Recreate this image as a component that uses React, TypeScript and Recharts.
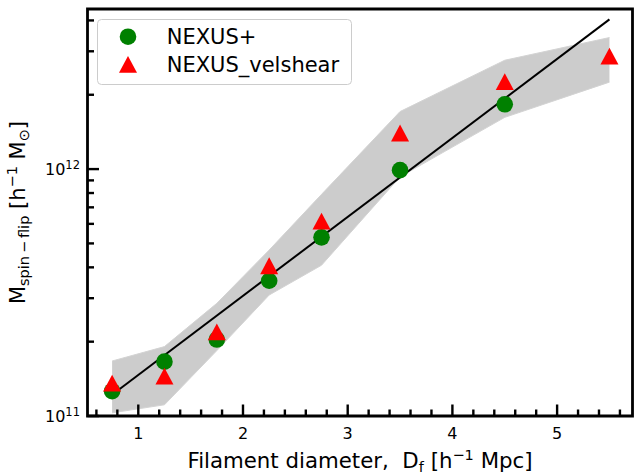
import {
  Area,
  ComposedChart,
  Legend,
  Line,
  ReferenceArea,
  Scatter,
  XAxis,
  YAxis,
} from "recharts";

// filament diameter bins [h^-1 Mpc]
const diameters = [0.75, 1.25, 1.75, 2.25, 2.75, 3.5, 4.5, 5.5];

// spin-flip mass per bin [h^-1 Msun]
const nexusPlus = [1.26e11, 1.66e11, 2.04e11, 3.53e11, 5.29e11, 0.99e12, 1.83e12];
const nexusVelshear = [1.36e11, 1.45e11, 2.19e11, 4.06e11, 6.16e11, 1.4e12, 2.26e12, 2.87e12];

// shaded scatter envelope
const bandLow = [1.03e11, 1.11e11, 1.84e11, 3.09e11, 4.08e11, 9.3e11, 1.62e12, 2.25e12];
const bandHigh = [1.67e11, 1.91e11, 2.86e11, 4.7e11, 7.9e11, 1.71e12, 2.76e12, 3.41e12];

// power-law fit end points
const fitDiameters = [0.75, 5.5];
const fitMass = [1.22e11, 4.04e12];

const xMajorTicks = [1, 2, 3, 4, 5];
const xTicks = [
  0.6, 0.8, 1, 1.2, 1.4, 1.6, 1.8, 2, 2.2, 2.4, 2.6, 2.8, 3, 3.2, 3.4, 3.6,
  3.8, 4, 4.2, 4.4, 4.6, 4.8, 5, 5.2, 5.4, 5.6,
];
const yMajorTicks = [1e11, 1e12];
const yTicks = [
  1e11, 2e11, 3e11, 4e11, 5e11, 6e11, 7e11, 8e11, 9e11, 1e12, 2e12, 3e12, 4e12,
];

const X_DOMAIN: [number, number] = [0.515, 5.72];
const Y_DOMAIN: [number, number] = [1e11, 4.45e12];

const FONT = "'DejaVu Sans', sans-serif";
const GREEN = "#008000";
const RED = "#ff0000";
const MAJOR = 11.5;
const MINOR = 6.5;
const TICK_W = 2.4;

const nexusRows = nexusPlus.map((m, i) => ({ d: diameters[i], m }));
const velshearRows = nexusVelshear.map((m, i) => ({ d: diameters[i], m }));
const bandRows = diameters.map((d, i) => ({ d, range: [bandLow[i], bandHigh[i]] }));
const fitRows = fitDiameters.map((d, i) => ({ d, m: fitMass[i] }));

function CircleDot({ cx, cy }: any) {
  return <circle cx={cx} cy={cy} r={8.3} fill={GREEN} />;
}

function TriangleDot({ cx, cy }: any) {
  return (
    <path
      d={`M${cx},${cy - 8.4} L${cx + 9},${cy + 8.4} L${cx - 9},${cy + 8.4} Z`}
      fill={RED}
    />
  );
}

function BottomTick({ x, y, payload }: any) {
  const major = xMajorTicks.includes(payload.value);
  return (
    <g>
      <line x1={x} x2={x} y1={y} y2={y - (major ? MAJOR : MINOR)} stroke="#000" strokeWidth={TICK_W} />
      {major && (
        <text x={x} y={y + 23.3} textAnchor="middle" fontSize={16} fontFamily={FONT} fill="#000">
          {payload.value}
        </text>
      )}
    </g>
  );
}

function TopTick({ x, y, payload }: any) {
  const major = xMajorTicks.includes(payload.value);
  return (
    <line x1={x} x2={x} y1={y} y2={y + (major ? MAJOR : MINOR)} stroke="#000" strokeWidth={TICK_W} />
  );
}

function LeftTick({ x, y, payload }: any) {
  const major = yMajorTicks.includes(payload.value);
  const exp = Math.round(Math.log10(payload.value));
  return (
    <g>
      <line x1={x} x2={x + (major ? MAJOR : MINOR)} y1={y} y2={y} stroke="#000" strokeWidth={TICK_W} />
      {major && (
        <text x={x - 7.5} y={y + 5.7} textAnchor="end" fontSize={16} fontFamily={FONT} fill="#000">
          10
          <tspan fontSize={11.5} dy={-6}>
            {exp}
          </tspan>
        </text>
      )}
    </g>
  );
}

function RightTick({ x, y, payload }: any) {
  const major = yMajorTicks.includes(payload.value);
  return (
    <line x1={x} x2={x - (major ? MAJOR : MINOR)} y1={y} y2={y} stroke="#000" strokeWidth={TICK_W} />
  );
}

function XTitle({ viewBox }: any) {
  const cx = viewBox.x + viewBox.width / 2;
  return (
    <text x={cx} y={viewBox.y + 52} textAnchor="middle" fontSize={21.3} fontFamily={FONT} fill="#000">
      Filament diameter,{"\u00a0\u00a0"}D
      <tspan fontSize={14.5} dy={3.5}>f</tspan>
      <tspan dy={-3.5}>{"\u00a0"}[h</tspan>
      <tspan fontSize={14.5} dy={-8}>−1</tspan>
      <tspan dy={8}>{"\u00a0"}Mpc]</tspan>
    </text>
  );
}

function YTitle({ viewBox }: any) {
  const cx = 25;
  const cy = viewBox.y + viewBox.height / 2;
  return (
    <text
      x={cx}
      y={cy}
      transform={`rotate(-90, ${cx}, ${cy})`}
      textAnchor="middle"
      fontSize={21}
      fontFamily={FONT}
      fill="#000"
    >
      M
      <tspan fontSize={14.5} dy={4}>{"spin\u2009\u2212\u2009flip"}</tspan>
      <tspan dy={-4}>{"\u00a0"}[h</tspan>
      <tspan fontSize={14.5} dy={-8}>−1</tspan>
      <tspan dy={8}>{"\u00a0"}M</tspan>
      <tspan fontSize={14.5} dy={4}>⊙</tspan>
      <tspan dy={-4}>]</tspan>
    </text>
  );
}

function LegendBox() {
  return (
    <svg width={256} height={67} style={{ display: "block" }}>
      <rect x={0.5} y={0.5} width={254} height={65} rx={4} fill="#fff" fillOpacity={0.8} stroke="#cccccc" />
      <circle cx={31} cy={17.7} r={8.3} fill={GREEN} />
      <path d="M31,36.9 L40,53.7 L22,53.7 Z" fill={RED} />
      <text x={69.7} y={25.3} fontSize={21} fontFamily={FONT} fill="#000">
        NEXUS+
      </text>
      <text x={69.7} y={52.7} fontSize={21} fontFamily={FONT} fill="#000">
        NEXUS_velshear
      </text>
    </svg>
  );
}

export default function App() {
  return (
    <div style={{ position: "absolute", left: 0, top: 0, background: "#fff" }}>
      <ComposedChart
        width={635}
        height={474}
        margin={{ top: 9, right: 2.5, bottom: 0, left: 0 }}
      >
        <XAxis
          dataKey="d"
          type="number"
          domain={X_DOMAIN}
          allowDataOverflow
          ticks={xTicks}
          interval={0}
          height={58}
          tickSize={0}
          tickMargin={0}
          axisLine={false}
          tick={<BottomTick />}
          label={{ content: (p: any) => <XTitle {...p} /> }}
        />
        <XAxis
          xAxisId="top"
          orientation="top"
          dataKey="d"
          type="number"
          domain={X_DOMAIN}
          allowDataOverflow
          ticks={xTicks}
          interval={0}
          height={0}
          tickSize={0}
          tickMargin={0}
          axisLine={false}
          tick={<TopTick />}
        />
        <YAxis
          type="number"
          scale="log"
          domain={Y_DOMAIN}
          allowDataOverflow
          ticks={yTicks}
          interval={0}
          width={87.5}
          tickSize={0}
          tickMargin={0}
          axisLine={false}
          tick={<LeftTick />}
          label={{ content: (p: any) => <YTitle {...p} /> }}
        />
        <YAxis
          yAxisId="right"
          orientation="right"
          type="number"
          scale="log"
          domain={Y_DOMAIN}
          allowDataOverflow
          ticks={yTicks}
          interval={0}
          width={0}
          tickSize={0}
          tickMargin={0}
          axisLine={false}
          tick={<RightTick />}
        />

        <Area
          data={bandRows}
          dataKey="range"
          type="linear"
          fill="#cccccc"
          fillOpacity={1}
          stroke="#d3d3d3"
          strokeWidth={1}
          isAnimationActive={false}
        />
        <Scatter
          data={nexusRows}
          dataKey="m"
          name="NEXUS+"
          shape={<CircleDot />}
          isAnimationActive={false}
        />
        <Scatter
          data={velshearRows}
          dataKey="m"
          name="NEXUS_velshear"
          shape={<TriangleDot />}
          isAnimationActive={false}
        />
        <Line
          data={fitRows}
          dataKey="m"
          type="linear"
          stroke="#000"
          strokeWidth={2}
          dot={false}
          activeDot={false}
          isAnimationActive={false}
        />

        {/* axes frame */}
        <ReferenceArea
          x1={X_DOMAIN[0]}
          x2={X_DOMAIN[1]}
          y1={Y_DOMAIN[0]}
          y2={Y_DOMAIN[1]}
          fill="none"
          fillOpacity={0}
          stroke="#000"
          strokeWidth={2.8}
          ifOverflow="visible"
        />

        <Legend
          layout="vertical"
          align="center"
          verticalAlign="middle"
          wrapperStyle={{ left: 97, top: 19, width: 256, height: 67 }}
          content={() => <LegendBox />}
        />
      </ComposedChart>
    </div>
  );
}
